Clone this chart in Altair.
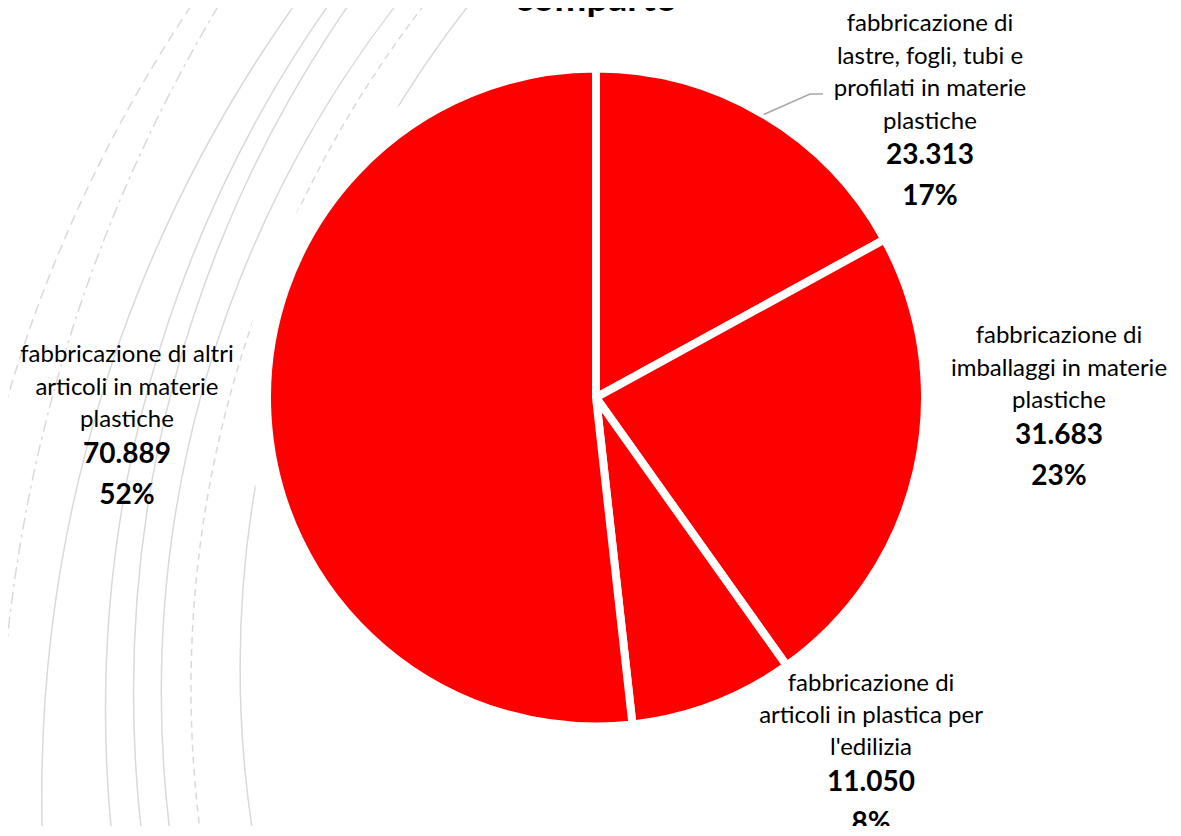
import altair as alt
import pandas as pd
import numpy as np

# ---------------- data ----------------
categories = ["lastre", "imballaggi", "edilizia", "altri"]
label_lines = [
    ["fabbricazione di", "lastre, fogli, tubi e", "profilati in materie", "plastiche"],
    ["fabbricazione di", "imballaggi in materie", "plastiche"],
    ["fabbricazione di", "articoli in plastica per", "l'edilizia"],
    ["fabbricazione di altri", "articoli in materie", "plastiche"],
]
values = [23313, 31683, 11050, 70889]
title_text = "comparto"

# ---------------- layout / style (not data) ----------------
W, H = 1165, 818
CX, CY = 588, 389.5          # pie centre (plot px)
R_PIE = 329                  # outer radius incl. half white border
R_HALO = 352
R_LAB = 430
FONT = "Lato"
LH = 32.4                    # line height of category lines
GAP = 35.5                   # last category line -> value line
LH_B = 41                    # value line -> percent line
RED = "#ff0000"
GREY = "#d9d9d9"
# per-category label shift (dx, dy) from the mid-angle anchor
label_offsets = [(114.8, 3.9), (43.9, -150.3), (121.7, -108.7), (-39.7, -58.9)]

# decorative background arcs: (cx, cy, r, dash)
decor = [
    (1367.6, 792.0, 1426.0, [10, 6]),
    (1536.9, 792.0, 1546.0, [12, 5, 3, 5]),
    (1396.4, 787.4, 1362.6, None),
    (1322.0, 701.5, 1224.5, None),
    (1330.0, 683.9, 1204.5, None),
    (1276.0, 684.1, 1122.7, None),
    (1300.8, 680.2, 1117.8, [7, 5]),
    (1305.0, 659.5, 1072.9, None),
]


def fmt_it(v):
    return f"{v:,}".replace(",", ".")


total = sum(values)
df = pd.DataFrame({
    "cat": categories,
    "order": list(range(len(categories))),
    "value": values,
    "name": ["\n".join(l) for l in label_lines],
    "bold": [fmt_it(v) + "\n" + f"{round(v / total * 100)}%" for v in values],
})

base = alt.Chart(df).transform_window(
    cum="sum(value)", sort=[alt.SortField("order")], frame=[None, 0]
).transform_joinaggregate(
    total="sum(value)"
).transform_calculate(
    t0="(datum.cum - datum.value) / datum.total * 2 * PI",
    t1="datum.cum / datum.total * 2 * PI",
    mid="(datum.cum - datum.value / 2) / datum.total * 2 * PI",
)

# decorative arcs
layers = []
for i, (cx, cy, r, dash) in enumerate(decor):
    d = pd.DataFrame({"cx": [cx], "cy": [cy], "r": [r], "a0": [np.pi], "a1": [2 * np.pi]})
    kw = dict(stroke=GREY, strokeWidth=1.5, fillOpacity=0, fill="white")
    if dash:
        kw["strokeDash"] = dash
    layers.append(
        alt.Chart(d).mark_arc(**kw).encode(
            x=alt.X("cx:Q", scale=None, axis=None),
            y=alt.Y("cy:Q", scale=None, axis=None),
            radius=alt.Radius("r:Q", scale=None),
            theta=alt.Theta("a0:Q", scale=None, stack=None),
            theta2=alt.Theta2("a1:Q"),
        )
    )

# white halo behind the pie
halo = alt.Chart(pd.DataFrame({"a0": [0.0], "a1": [2 * np.pi]})).mark_arc(
    fill="white", radius=R_HALO
).encode(
    x=alt.value(CX), y=alt.value(CY),
    theta=alt.Theta("a0:Q", scale=None, stack=None),
    theta2=alt.Theta2("a1:Q"),
)
layers.append(halo)

# pie
pie = base.mark_arc(
    fill=RED, stroke="white", strokeWidth=8, strokeJoin="bevel", radius=R_PIE
).encode(
    x=alt.value(CX), y=alt.value(CY),
    theta=alt.Theta("t0:Q", scale=None, stack=None),
    theta2=alt.Theta2("t1:Q"),
    tooltip=["cat:N", "value:Q"],
)
layers.append(pie)

# leader line for the first slice (starts at slice mid-angle on the rim)
mid0 = (values[0] / 2) / total * 2 * np.pi
lead = pd.DataFrame({
    "x": [CX + 329 * np.sin(mid0), 802, 815],
    "y": [CY - 329 * np.cos(mid0), 86, 86],
    "o": [0, 1, 2],
})
leader = alt.Chart(lead).mark_line(color="#a6a6a6", strokeWidth=1.5).encode(
    x=alt.X("x:Q", scale=None, axis=None),
    y=alt.Y("y:Q", scale=None, axis=None),
    order="o:Q",
)
layers.append(leader)

# labels
for i, (dx, dy) in enumerate(label_offsets):
    n = len(label_lines[i])
    sel = base.transform_filter(alt.datum.order == i)
    enc = dict(
        x=alt.value(CX), y=alt.value(CY),
        theta=alt.Theta("mid:Q", scale=None, stack=None),
        radius=alt.value(R_LAB),
    )
    layers.append(
        sel.mark_text(
            font=FONT, fontSize=24, lineBreak="\n", lineHeight=LH,
            align="center", baseline="alphabetic", dx=dx, dy=dy, color="black",
        ).encode(text="name:N", **enc)
    )
    layers.append(
        sel.mark_text(
            font=FONT, fontSize=28, fontWeight="bold", lineBreak="\n", lineHeight=LH_B,
            align="center", baseline="alphabetic", dx=dx,
            dy=dy + (n - 1) * LH + GAP, color="black",
        ).encode(text="bold:N", **enc)
    )

# title (mostly cut off at the top, as in the reference)
title = alt.Chart(pd.DataFrame({"t": [title_text]})).mark_text(
    font=FONT, fontSize=38, fontWeight="bold", align="center",
    baseline="alphabetic", color="black",
).encode(x=alt.value(CX), y=alt.value(3), text="t:N")
layers.append(title)

chart = alt.layer(*layers).properties(
    width=W, height=H, padding=0,
    autosize=alt.AutoSizeParams(type="none"),
).configure_view(stroke=None)

chart.save("out.html", embed_options={"renderer": "svg", "actions": False})
